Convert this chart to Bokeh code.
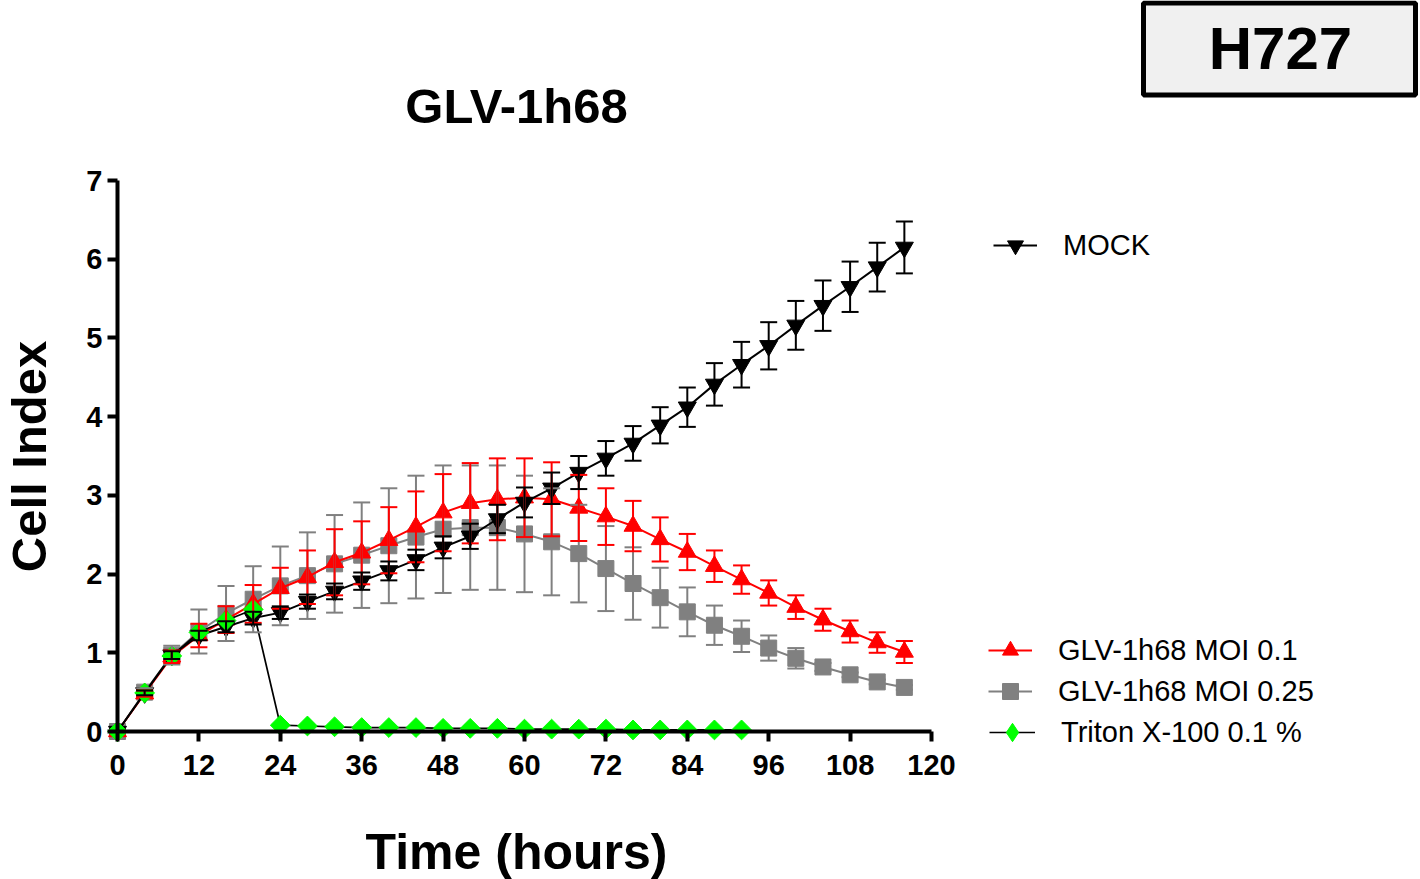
import numpy as np
from bokeh.plotting import figure
from bokeh.models import (ColumnDataSource, Whisker, TeeHead, FixedTicker, Legend,
                          LegendItem, Label, BoxAnnotation, Range1d)
from bokeh.embed import file_html
from bokeh.resources import INLINE

# ---------------- data ----------------
hours = list(range(0, 120, 4))          # 0 .. 116 h
triton_hours = list(range(0, 96, 4))    # 0 .. 92 h

mock = [0, 0.49, 0.97, 1.22, 1.33, 1.44, 1.51, 1.65, 1.78, 1.91, 2.04, 2.18, 2.34, 2.48, 2.70,
        2.91, 3.09, 3.29, 3.47, 3.66, 3.89, 4.12, 4.41, 4.66, 4.90, 5.16, 5.41, 5.65, 5.90, 6.15]
mock_sd = [0, 0.03, 0.05, 0.06, 0.07, 0.08, 0.08, 0.09, 0.10, 0.11, 0.12, 0.13, 0.14, 0.16, 0.18,
           0.19, 0.20, 0.21, 0.22, 0.22, 0.23, 0.25, 0.27, 0.29, 0.30, 0.31, 0.32, 0.32, 0.31, 0.33]

moi01 = [0, 0.48, 0.95, 1.22, 1.42, 1.62, 1.82, 1.96, 2.15, 2.27, 2.43, 2.60, 2.78, 2.90, 2.95,
         2.97, 2.95, 2.84, 2.73, 2.61, 2.44, 2.28, 2.10, 1.93, 1.76, 1.58, 1.42, 1.27, 1.13, 1.01]
moi01_sd = [0, 0.04, 0.08, 0.15, 0.17, 0.24, 0.26, 0.34, 0.42, 0.40, 0.42, 0.45, 0.49, 0.51, 0.52,
            0.50, 0.47, 0.42, 0.36, 0.32, 0.28, 0.23, 0.20, 0.18, 0.16, 0.15, 0.14, 0.14, 0.13, 0.14]

moi025 = [0, 0.50, 0.97, 1.27, 1.50, 1.68, 1.85, 1.98, 2.13, 2.24, 2.36, 2.47, 2.57, 2.59, 2.59,
          2.51, 2.41, 2.26, 2.07, 1.88, 1.70, 1.52, 1.35, 1.21, 1.06, 0.93, 0.82, 0.72, 0.63, 0.56]
moi025_sd = [0, 0.05, 0.12, 0.28, 0.35, 0.42, 0.50, 0.55, 0.62, 0.67, 0.73, 0.78, 0.81, 0.79, 0.79,
             0.74, 0.68, 0.62, 0.54, 0.46, 0.38, 0.31, 0.25, 0.20, 0.16, 0.13, 0.05, 0.03, 0.03, 0.03]

triton = [0, 0.49, 0.96, 1.26, 1.41, 1.55, 0.08, 0.07, 0.06, 0.05, 0.05, 0.05, 0.04, 0.04, 0.04,
          0.03, 0.03, 0.03, 0.03, 0.02, 0.02, 0.02, 0.02, 0.02]

x_ticks = [0, 12, 24, 36, 48, 60, 72, 84, 96, 108, 120]
y_ticks = [0, 1, 2, 3, 4, 5, 6, 7]

FONT = "Liberation Sans"

# ---------------- figure ----------------
W, H = 1420, 879
X0_PX, X1_PX = 117, 931     # pixel positions of x = 0 and x = 120
Y0_PX, Y7_PX = 731, 180     # pixel positions of y = 0 and y = 7
kx = (X1_PX - X0_PX) / (x_ticks[-1] - x_ticks[0])
ky = (Y0_PX - Y7_PX) / (y_ticks[-1] - y_ticks[0])

p = figure(width=W, height=H, min_border=0,
           x_range=Range1d(-X0_PX / kx, (W - X0_PX) / kx),
           y_range=Range1d(-(H - Y0_PX) / ky, y_ticks[-1] + Y7_PX / ky),
           output_backend="svg", toolbar_location=None)
p.outline_line_color = None
p.grid.visible = False
p.background_fill_color = "white"
p.border_fill_color = "white"

for ax, ticks in ((p.xaxis[0], x_ticks), (p.yaxis[0], y_ticks)):
    ax.ticker = FixedTicker(ticks=ticks)
    ax.fixed_location = 0
    ax.bounds = (ticks[0], ticks[-1])
    ax.axis_line_width = 4
    ax.major_tick_line_width = 4
    ax.major_tick_out = 10
    ax.major_tick_in = 0
    ax.minor_tick_line_color = None
    ax.major_label_text_font = FONT
    ax.major_label_text_font_style = "bold"
    ax.major_label_text_font_size = "29px"
    ax.major_label_text_color = "black"
    ax.axis_line_color = "black"
    ax.major_tick_line_color = "black"
p.xaxis.major_label_standoff = 13
p.yaxis.major_label_standoff = 5


def add_series(t, y, sd, color, marker, size, line_color=None, angle=0.0, line_width=2):
    lc = line_color or color
    if sd is not None:
        src_e = ColumnDataSource(dict(
            t=[a for a, s in zip(t, sd) if s > 0],
            up=[v + s for v, s in zip(y, sd) if s > 0],
            lo=[v - s for v, s in zip(y, sd) if s > 0]))
        w = Whisker(source=src_e, base="t", upper="up", lower="lo", dimension="height",
                    line_color=color, line_width=2, level="glyph",
                    upper_head=TeeHead(size=17, line_color=color, line_width=2),
                    lower_head=TeeHead(size=17, line_color=color, line_width=2))
        p.add_layout(w)
    src = ColumnDataSource(dict(t=t, y=y))
    ln = p.line("t", "y", source=src, line_color=lc, line_width=line_width)
    sc = p.scatter("t", "y", source=src, marker=marker, size=size, angle=angle,
                   fill_color=color, line_color=color)
    return ln, sc, src


g_ln, g_sc, _ = add_series(hours, moi025, moi025_sd, "#808080", "square", 16)
r_ln, r_sc, _ = add_series(hours, moi01, moi01_sd, "#ff0000", "triangle", 18)
m_ln, m_sc, _ = add_series(hours, mock, mock_sd, "#000000", "inverted_triangle", 18)
t_ln, t_sc, t_src = add_series(triton_hours, triton, None, "#00ff00", "square", 14,
                               line_color="#000000", angle=np.pi / 4, line_width=1.7)
# diamond drawn inside the rotated squares (hidden by them) -> gives the legend its diamond key
t_key = p.scatter("t", "y", source=t_src, marker="diamond", size=12,
                  fill_color="#00ff00", line_color="#00ff00")

# ---------------- legends ----------------
def make_legend(items, loc, gw=44, gh=40):
    lg = Legend(items=items, location=loc, orientation="vertical",
                glyph_width=gw, glyph_height=gh, spacing=1, padding=0, margin=0,
                label_standoff=26, label_text_font=FONT, label_text_font_size="29px",
                label_text_color="black", border_line_color=None,
                background_fill_alpha=0)
    p.add_layout(lg)
    return lg

make_legend([LegendItem(label="MOCK", renderers=[m_ln, m_sc])], (993, H - 245 - 20))
make_legend([LegendItem(label="GLV-1h68 MOI 0.1", renderers=[r_ln, r_sc]),
             LegendItem(label="GLV-1h68 MOI 0.25", renderers=[g_ln, g_sc])],
            (988, H - 691 - 20))
make_legend([LegendItem(label="Triton X-100 0.1 %", renderers=[t_ln, t_key])],
            (989, H - 732 - 26), gw=46, gh=52)

# ---------------- texts ----------------
def screen_label(x, y_from_top, text, size, **kw):
    p.add_layout(Label(x=x, y=H - y_from_top, x_units="screen", y_units="screen", text=text,
                       text_font=FONT, text_font_style="bold", text_font_size=size,
                       text_color="black", text_align="center", text_baseline="alphabetic",
                       **kw))

screen_label(516, 105, "GLV-1h68", "49px")
screen_label(516, 851, "Time (hours)", "50px")
p.add_layout(Label(x=28, y=H - 456, x_units="screen", y_units="screen", text="Cell Index",
                   angle=np.pi / 2, text_font=FONT, text_font_style="bold",
                   text_font_size="49px", text_color="black",
                   text_align="center", text_baseline="alphabetic"))

p.add_layout(BoxAnnotation(left=1143, right=1415, top=H - 2.5, bottom=H - 94.5,
                           left_units="screen", right_units="screen",
                           top_units="screen", bottom_units="screen",
                           fill_color="#f0f0f0", fill_alpha=1,
                           line_color="black", line_alpha=1, line_width=5, level="overlay"))
screen_label(1280, 48, "H727", "60px", level="overlay")

open("out.html", "w").write(file_html(p, INLINE))
